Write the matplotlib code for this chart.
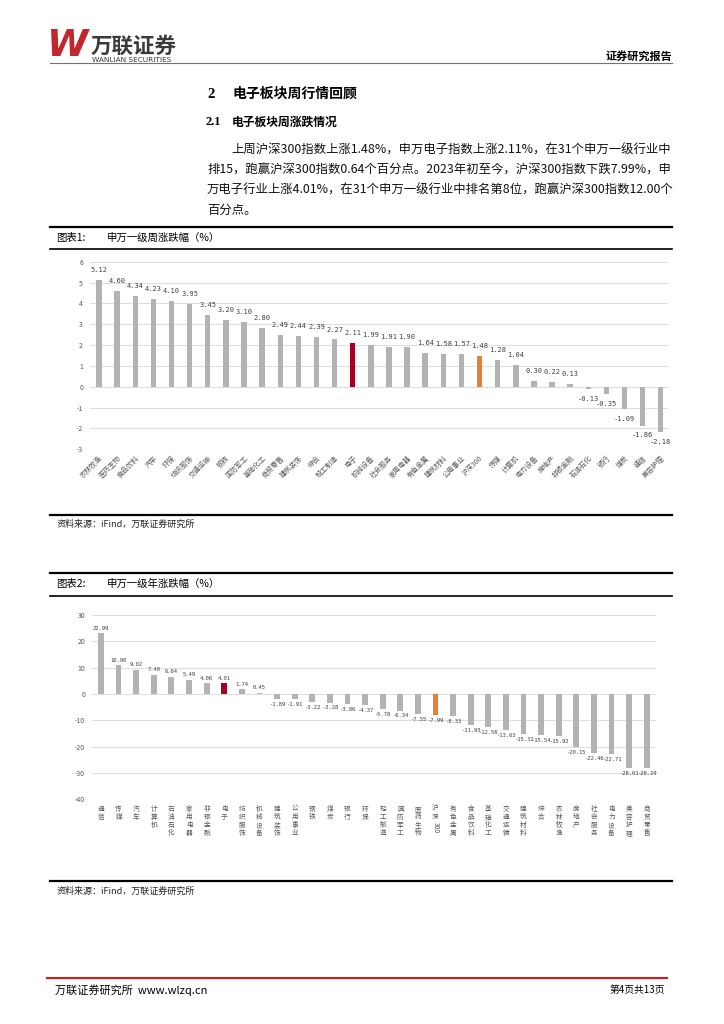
import matplotlib
matplotlib.use('Agg')
import matplotlib.pyplot as plt
from matplotlib.transforms import blended_transform_factory

plt.rcParams['font.family'] = ['Noto Sans CJK SC', 'DejaVu Sans']
plt.rcParams['axes.unicode_minus'] = False

# 图表1: 申万一级周涨跌幅 (%)
week_names = ['农林牧渔', '医药生物', '食品饮料', '汽车', '环保', '纺织服饰', '交通运输', '钢铁',
              '国防军工', '基础化工', '商贸零售', '建筑装饰', '综合', '轻工制造', '电子', '机械设备',
              '社会服务', '家用电器', '有色金属', '建筑材料', '公用事业', '沪深300', '传媒', '计算机',
              '电力设备', '房地产', '非银金融', '石油石化', '银行', '煤炭', '通信', '美容护理']
week_values = [5.12, 4.60, 4.34, 4.23, 4.10, 3.95, 3.45, 3.20,
               3.10, 2.80, 2.49, 2.44, 2.39, 2.27, 2.11, 1.99,
               1.91, 1.90, 1.64, 1.58, 1.57, 1.48, 1.28, 1.04,
               0.30, 0.22, 0.13, -0.13, -0.35, -1.09, -1.86, -2.18]

# 图表2: 申万一级年涨跌幅 (%)
year_names = ['通信', '传媒', '汽车', '计算机', '石油石化', '家用电器', '非银金融', '电子',
              '纺织服饰', '机械设备', '建筑装饰', '公用事业', '钢铁', '煤炭', '银行', '环保',
              '轻工制造', '国防军工', '医药生物', '沪深300', '有色金属', '食品饮料', '基础化工', '交通运输',
              '建筑材料', '综合', '农林牧渔', '房地产', '社会服务', '电力设备', '美容护理', '商贸零售']
year_values = [22.99, 10.90, 9.02, 7.40, 6.64, 5.49, 4.06, 4.01,
               1.74, 0.45, -1.89, -1.91, -3.22, -3.28, -3.86, -4.37,
               -5.78, -6.34, -7.55, -7.99, -8.33, -11.93, -12.56, -13.63,
               -15.32, -15.54, -15.92, -20.15, -22.46, -22.71, -28.01, -28.29]

para_lines = ['上周沪深300指数上涨1.48%，申万电子指数上涨2.11%，在31个申万一级行业中',
              '排15，跑赢沪深300指数0.64个百分点。2023年初至今，沪深300指数下跌7.99%，申',
              '万电子行业上涨4.01%，在31个申万一级行业中排名第8位，跑赢沪深300指数12.00个',
              '百分点。']

GREY = '#b3b3b3'
RED = '#a50021'
ORANGE = '#ed7d31'
TICK = '#595959'
W, H = 724, 1024


def box(x0, y0, x1, y1):
    # pixel box (top-left origin) -> figure fraction rect
    return [x0 / W, 1 - y1 / H, (x1 - x0) / W, (y1 - y0) / H]


def bar_colors(names):
    cols = []
    for n in names:
        if n == '电子':
            cols.append(RED)
        elif n == '沪深300':
            cols.append(ORANGE)
        else:
            cols.append(GREY)
    return cols


def stacked(name):
    # vertical label, digits kept together and turned sideways separately
    if name == '沪深300':
        return '沪\n深'
    return '\n'.join(name)


fig = plt.figure(figsize=(7.24, 10.24), dpi=100)
page = fig.add_axes([0, 0, 1, 1])
page.set_xlim(0, W)
page.set_ylim(H, 0)
page.axis('off')

# header
page.text(47, 64, 'W', color='#c0282d', fontsize=27, fontweight='heavy', style='italic',
          family='DejaVu Sans', va='bottom', ha='left')
page.text(91, 46.5, '万联证券', color='#3a3a3a', fontsize=15.5, fontweight='bold', va='center', ha='left')
page.text(92, 59.5, 'WANLIAN SECURITIES', color='#3a3a3a', fontsize=5.3, va='center', ha='left',
          family='DejaVu Sans')
page.plot([50, 672], [62.5, 62.5], color='#c0504d', lw=0.8)
page.text(672, 56, '证券研究报告', fontsize=8, fontweight='bold', ha='right', va='center')

# titles and paragraph
page.text(207, 94, '2', fontsize=10.5, fontweight='bold', family='Liberation Serif', va='center')
page.text(232, 94, '电子板块周行情回顾', fontsize=10, fontweight='bold', va='center')
page.text(205, 122, '2.1', fontsize=9, fontweight='bold', family='Liberation Serif', va='center')
page.text(232, 122, '电子板块周涨跌情况', fontsize=8.5, fontweight='bold', va='center')
line_y = [150, 170, 190, 210]
for i, (txt, y) in enumerate(zip(para_lines, line_y)):
    page.text(231 if i == 0 else 207, y, txt, fontsize=8.9, va='center', color='#111111')

# caption frames
for y in [227, 515, 573, 881]:
    page.plot([50, 672], [y, y], color='black', lw=1.6)
for y in [249, 596]:
    page.plot([50, 672], [y, y], color='black', lw=1.2)
page.text(56, 238, '图表1:', fontsize=7.5, va='center')
page.text(107, 238, '申万一级周涨跌幅（%）', fontsize=7.5, va='center')
page.text(56, 584, '图表2:', fontsize=7.5, va='center')
page.text(107, 584, '申万一级年涨跌幅（%）', fontsize=7.5, va='center')
for y in [524, 891]:
    page.text(57, y, '资料来源：iFind，万联证券研究所', fontsize=6.5, style='italic', va='center',
              color='#222222')

# footer
page.plot([47, 667], [978, 978], color='#c0282d', lw=1.6)
page.text(55, 990, '万联证券研究所  www.wlzq.cn', fontsize=8, va='center')
page.text(665, 990, '第4页共13页', fontsize=7, va='center', ha='right')

# chart 1
ax1 = fig.add_axes(box(90, 261.7, 668, 449.3))
x1 = list(range(len(week_names)))
ax1.bar(x1, week_values, width=0.3, color=bar_colors(week_names), zorder=3)
ax1.set_xlim(-0.5, 31.4)
ax1.set_ylim(-3, 6)
ax1.set_yticks(range(-3, 7))
ax1.grid(axis='y', color='#dedede', lw=0.8, zorder=0)
for s in ax1.spines.values():
    s.set_visible(False)
ax1.tick_params(axis='both', length=0, labelsize=5, labelcolor=TICK)
ax1.tick_params(axis='y', pad=5)
ax1.set_xticks(x1)
ax1.set_xticklabels(week_names, rotation=45, ha='right', rotation_mode='anchor', fontsize=5)
for xi, v in zip(x1, week_values):
    ax1.annotate('%.2f' % v, (xi, v), xytext=(0, 5 if v >= 0 else -5), textcoords='offset points',
                 ha='center', va='bottom' if v >= 0 else 'top', fontsize=5, color='#404040',
                 family='DejaVu Sans Mono')

# chart 2
ax2 = fig.add_axes(box(92, 615, 656, 799.3))
x2 = list(range(len(year_names)))
ax2.bar(x2, year_values, width=0.33, color=bar_colors(year_names), zorder=3)
ax2.set_xlim(-0.51, 31.53)
ax2.set_ylim(-40, 30)
ax2.set_yticks(range(-40, 31, 10))
ax2.grid(axis='y', color='#dedede', lw=0.8, zorder=0)
for s in ax2.spines.values():
    s.set_visible(False)
ax2.tick_params(axis='both', length=0, labelsize=5, labelcolor=TICK)
ax2.tick_params(axis='y', pad=5)
ax2.set_xticks(x2)
ax2.set_xticklabels([stacked(n) for n in year_names], fontsize=4.8, linespacing=1.0, va='top')
ax2.tick_params(axis='x', pad=4)
hs = year_names.index('沪深300')
ax2.text(hs, -0.125, '300', transform=blended_transform_factory(ax2.transData, ax2.transAxes),
         rotation=270, fontsize=4.8, color=TICK, ha='center', va='top')
for xi, v in zip(x2, year_values):
    ax2.annotate('%.2f' % v, (xi, v), xytext=(0, 2 if v >= 0 else -2), textcoords='offset points',
                 ha='center', va='bottom' if v >= 0 else 'top', fontsize=4.0, color='#404040',
                 family='DejaVu Sans Mono')

fig.savefig('out.png', dpi=100)
